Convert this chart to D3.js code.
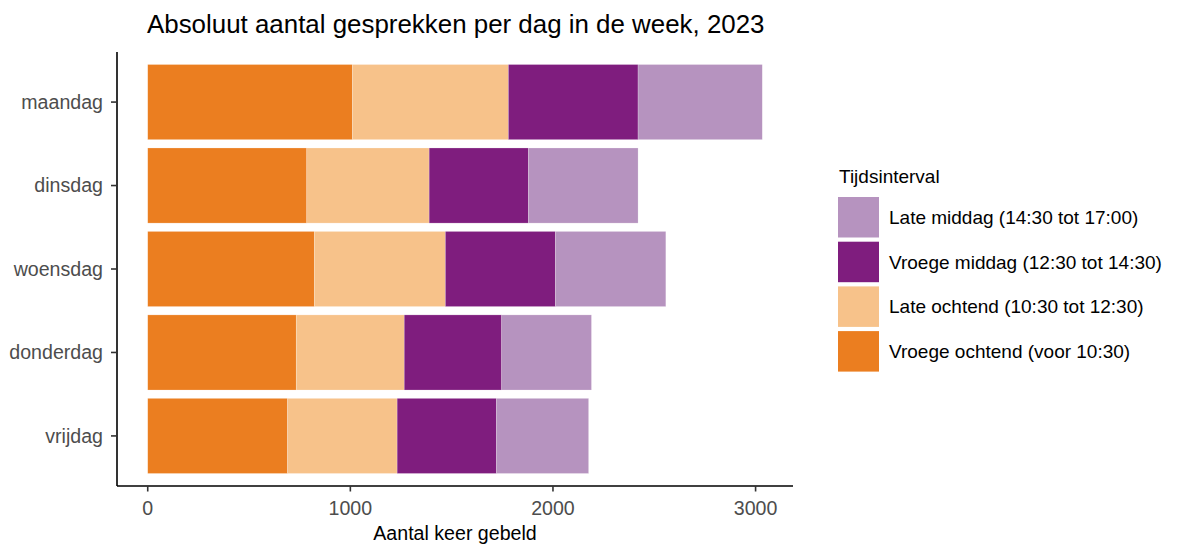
<!DOCTYPE html>
<html lang="nl">
<head>
    <meta charset="utf-8">
    <title>Absoluut aantal gesprekken per dag in de week, 2023</title>
    <script src="https://d3js.org/d3.v7.min.js"></script>
    <style>
        body { margin: 0; background: #fff; }
        text { font-family: "Liberation Sans", Arial, sans-serif; }
    </style>
</head>
<body>
<div id="chart-container"></div>
<script>
    // Data
    const days = ["maandag", "dinsdag", "woensdag", "donderdag", "vrijdag"];
    const intervals = [
        "Vroege ochtend (voor 10:30)",
        "Late ochtend (10:30 tot 12:30)",
        "Vroege middag (12:30 tot 14:30)",
        "Late middag (14:30 tot 17:00)"
    ];
    const vroegeOchtend = [1010, 785, 822, 733, 690];
    const lateOchtend   = [770, 604, 647, 533, 541];
    const vroegeMiddag  = [640, 490, 543, 481, 490];
    const lateMiddag    = [613, 541, 545, 443, 455];
    const xTicks = [0, 1000, 2000, 3000];
    const colours = ["#EB7E20", "#F7C28A", "#7F1D7E", "#B693BF"];

    const seriesValues = [vroegeOchtend, lateOchtend, vroegeMiddag, lateMiddag];
    const rows = days.map((d, i) => {
        const row = { dag: d };
        intervals.forEach((k, j) => row[k] = seriesValues[j][i]);
        return row;
    });

    const width = 1185, height = 546;
    const panel = { left: 117, right: 793, top: 52, bottom: 486 };
    const smallFont = "19.6px";
    const legendFont = "19px";

    const svg = d3.select("#chart-container")
        .append("svg")
        .attr("width", width)
        .attr("height", height);

    const stacked = d3.stack().keys(intervals)(rows);
    const maxTotal = d3.max(stacked[stacked.length - 1], d => d[1]);

    const xScale = d3.scaleLinear()
        .domain([-0.05 * maxTotal, 1.05 * maxTotal])
        .range([panel.left, panel.right]);

    // discrete axis with 0.6 step of room at both ends, bars 0.9 of a step
    const step = (panel.bottom - panel.top) / (days.length + 0.2);
    const yScale = d3.scalePoint()
        .domain(days)
        .range([panel.top + 0.6 * step, panel.bottom - 0.6 * step]);
    const barH = 0.9 * step;

    const colour = d3.scaleOrdinal().domain(intervals).range(colours);

    // Bars
    svg.append("g")
        .selectAll("g")
        .data(stacked)
        .join("g")
        .attr("fill", d => colour(d.key))
        .selectAll("rect")
        .data(d => d)
        .join("rect")
        .attr("x", d => xScale(d[0]))
        .attr("width", d => xScale(d[1]) - xScale(d[0]))
        .attr("y", d => yScale(d.data.dag) - barH / 2)
        .attr("height", barH)
        .attr("stroke", "rgba(255,255,255,0.35)")
        .attr("stroke-width", 0.6);

    // x axis
    const xAxis = svg.append("g")
        .attr("transform", `translate(0,${panel.bottom})`);
    xAxis.append("line")
        .attr("x1", panel.left).attr("x2", panel.right)
        .attr("stroke", "#000").attr("stroke-width", 1.6);
    xAxis.selectAll(".tick")
        .data(xTicks)
        .join("line")
        .attr("x1", d => xScale(d)).attr("x2", d => xScale(d))
        .attr("y1", 0).attr("y2", 5.5)
        .attr("stroke", "#333").attr("stroke-width", 1.6);
    xAxis.selectAll(".lbl")
        .data(xTicks)
        .join("text")
        .attr("x", d => xScale(d))
        .attr("y", 29)
        .attr("text-anchor", "middle")
        .attr("fill", "#4D4D4D")
        .style("font-size", smallFont)
        .text(d => d);

    // y axis
    const yAxis = svg.append("g")
        .attr("transform", `translate(${panel.left},0)`);
    yAxis.append("line")
        .attr("y1", panel.top).attr("y2", panel.bottom)
        .attr("stroke", "#000").attr("stroke-width", 1.6);
    yAxis.selectAll(".tick")
        .data(days)
        .join("line")
        .attr("x1", -6).attr("x2", 0)
        .attr("y1", d => yScale(d)).attr("y2", d => yScale(d))
        .attr("stroke", "#333").attr("stroke-width", 1.6);
    yAxis.selectAll(".lbl")
        .data(days)
        .join("text")
        .attr("x", -14)
        .attr("y", d => yScale(d))
        .attr("dy", "0.35em")
        .attr("text-anchor", "end")
        .attr("fill", "#4D4D4D")
        .style("font-size", smallFont)
        .text(d => d);

    // Axis title
    svg.append("text")
        .attr("x", (panel.left + panel.right) / 2)
        .attr("y", 540)
        .attr("text-anchor", "middle")
        .style("font-size", smallFont)
        .text("Aantal keer gebeld");

    // Title
    svg.append("text")
        .attr("x", 147)
        .attr("y", 33)
        .style("font-size", "25.9px")
        .text("Absoluut aantal gesprekken per dag in de week, 2023");

    // Legend
    const legend = svg.append("g")
        .attr("transform", "translate(838,0)");
    legend.append("text")
        .attr("x", 1)
        .attr("y", 183)
        .style("font-size", legendFont)
        .text("Tijdsinterval");
    const legendKeys = intervals.slice().reverse();
    const keyStep = 44.7;
    legend.selectAll("rect")
        .data(legendKeys)
        .join("rect")
        .attr("x", 0)
        .attr("y", (d, i) => 197 + i * keyStep)
        .attr("width", 41)
        .attr("height", 40.5)
        .attr("fill", d => colour(d));
    legend.selectAll(".lbl")
        .data(legendKeys)
        .join("text")
        .attr("x", 51)
        .attr("y", (d, i) => 197 + i * keyStep + 20.25)
        .attr("dy", "0.35em")
        .style("font-size", legendFont)
        .text(d => d);
</script>
</body>
</html>
